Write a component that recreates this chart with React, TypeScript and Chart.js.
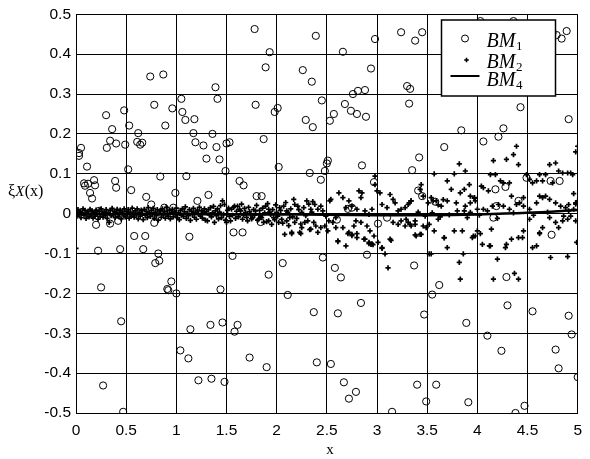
import { useEffect, useRef } from "react";
import { Chart, registerables } from "chart.js";
Chart.register(...registerables);

const xTickValues = [0, 0.5, 1, 1.5, 2, 2.5, 3, 3.5, 4, 4.5, 5];
const yTickValues = [-0.5, -0.4, -0.3, -0.2, -0.1, 0, 0.1, 0.2, 0.3, 0.4, 0.5];
const seriesNames = ["BM", "BM", "BM"];
const seriesSubs = ["1", "2", "4"];

// BM1 : open circles
const bm1: [number, number][] = [
  [0.03, 0.152], [0.05, 0.165], [0.03, 0.145], [0.11, 0.118],
  [0.08, 0.076], [0.12, 0.075], [0.18, 0.084], [0.19, 0.071], [0.14, 0.052], [0.16, 0.038], [0.09, 0.07],
  [0.3, 0.247], [0.307, 0.165], [0.34, 0.183], [0.36, 0.212], [0.4, 0.176], [0.39, 0.082], [0.4, 0.065],
  [0.23, 0.007], [0.2, -0.028], [0.34, -0.025], [0.42, -0.018],
  [0.48, 0.259], [0.49, 0.173], [0.53, 0.221], [0.52, 0.111], [0.55, 0.059],
  [0.62, 0.202], [0.61, 0.18], [0.64, 0.173], [0.66, 0.178],
  [0.7, 0.042], [0.75, 0.023], [0.74, 0.344], [0.78, 0.273], [0.87, 0.349], [0.89, 0.221], [0.84, 0.093], [0.88, 0.015], [0.78, -0.023],
  [0.96, 0.264], [0.99, 0.052], [0.97, 0.015],
  [1.05, 0.288], [1.06, 0.255], [1.09, 0.235], [1.1, 0.094],
  [1.18, 0.237], [1.17, 0.202], [1.19, 0.179], [1.21, 0.032],
  [1.27, 0.171], [1.3, 0.138], [1.32, 0.047], [1.36, 0.2], [1.39, 0.317], [1.41, 0.288], [1.4, 0.167], [1.43, 0.136], [1.49, 0.107], [1.5, 0.176], [1.53, 0.179],
  [1.63, 0.082], [1.67, 0.071],
  [1.78, 0.463], [1.93, 0.405], [1.89, 0.367], [1.79, 0.273], [1.87, 0.187], [1.8, 0.044], [1.85, 0.044],
  [1.98, 0.255], [2.01, 0.265], [2.02, 0.117], [1.84, -0.021],
  [0.58, -0.056], [0.69, -0.056], [1.13, -0.058], [1.57, -0.047], [1.66, -0.047],
  [0.22, -0.093], [0.44, -0.089], [0.67, -0.089], [0.82, -0.1], [0.79, -0.124], [0.83, -0.118], [1.56, -0.106],
  [0.25, -0.185], [0.95, -0.17], [0.91, -0.189], [0.92, -0.192], [1.0, -0.2], [1.44, -0.19], [1.92, -0.153], [2.06, -0.124], [2.11, -0.204],
  [0.45, -0.27], [1.14, -0.29], [1.34, -0.279], [1.46, -0.273], [1.61, -0.279], [1.58, -0.296],
  [1.04, -0.343], [1.12, -0.363], [1.73, -0.361], [1.9, -0.385],
  [0.27, -0.431], [1.22, -0.418], [1.35, -0.414], [1.48, -0.422], [0.47, -0.497],
  [2.39, 0.446], [2.66, 0.406], [2.98, 0.438], [3.24, 0.455], [3.38, 0.434], [3.45, 0.455], [4.03, 0.483], [4.36, 0.483],
  [4.75, 0.454], [4.79, 0.448], [4.84, 0.439], [4.89, 0.458],
  [2.26, 0.36], [2.35, 0.331], [2.94, 0.364], [3.3, 0.32], [3.33, 0.313],
  [2.81, 0.308], [2.88, 0.31], [2.76, 0.3], [2.45, 0.284], [2.68, 0.275], [2.74, 0.258], [2.8, 0.25], [2.89, 0.243], [2.57, 0.25], [2.53, 0.233], [2.29, 0.235], [2.36, 0.217],
  [3.32, 0.276], [4.43, 0.267], [4.91, 0.237], [4.72, 0.36], [4.73, 0.327],
  [3.84, 0.209], [4.26, 0.214], [4.21, 0.193], [4.06, 0.181], [3.67, 0.167], [3.42, 0.141], [2.85, 0.121], [3.35, 0.109],
  [2.51, 0.133], [2.5, 0.126], [2.48, 0.107], [2.33, 0.102], [2.44, 0.085], [2.97, 0.079], [3.41, 0.058], [3.45, 0.044],
  [2.71, 0.012], [2.75, 0.015], [4.18, 0.061], [4.28, 0.067], [4.19, 0.019], [4.41, 0.032], [4.73, 0.082], [4.82, 0.082], [4.49, 0.09],
  [3.58, 0.03], [4.16, -0.01], [3.01, -0.025], [3.1, -0.01], [2.6, -0.015],
  [4.74, -0.053], [2.46, -0.11], [2.9, -0.103], [3.37, -0.13], [2.58, -0.136], [2.64, -0.16], [4.29, -0.159],
  [3.62, -0.179], [3.55, -0.203], [2.84, -0.224], [2.37, -0.247], [2.61, -0.25], [3.47, -0.253], [3.89, -0.274], [4.3, -0.23], [4.55, -0.245], [4.91, -0.256],
  [4.1, -0.306], [4.94, -0.303], [4.24, -0.344], [4.78, -0.341], [4.81, -0.388],
  [2.4, -0.373], [2.54, -0.377], [2.67, -0.423], [2.79, -0.447], [2.72, -0.464], [3.4, -0.429], [3.59, -0.429], [3.49, -0.471], [3.91, -0.473], [3.15, -0.497], [4.38, -0.5], [4.47, -0.482], [5.0, -0.41],
];

// BM2 : small plus marks, x < 1.6
const bm2Near: [number, number][] = [
  [0.0, -0.087],
  [0.0, 0.004], [0.01, -0.006], [0.02, 0.01], [0.03, -0.002], [0.04, 0.006], [0.05, -0.01], [0.06, 0.002], [0.07, 0.012], [0.08, -0.004], [0.09, 0.008],
  [0.1, -0.012], [0.11, 0.0], [0.12, 0.005], [0.13, -0.008], [0.14, 0.011], [0.15, -0.003], [0.16, 0.007], [0.17, -0.011], [0.18, 0.003], [0.19, -0.006],
  [0.2, 0.009], [0.21, -0.001], [0.22, -0.014], [0.23, 0.006], [0.24, -0.007], [0.25, 0.012], [0.26, 0.001], [0.27, -0.009], [0.28, 0.004], [0.29, -0.004],
  [0.3, 0.01], [0.31, -0.012], [0.32, 0.002], [0.33, -0.022], [0.34, 0.008], [0.35, -0.005], [0.36, 0.013], [0.37, -0.002], [0.38, 0.006], [0.39, -0.01],
  [0.4, 0.003], [0.41, 0.011], [0.42, -0.007], [0.43, 0.0], [0.44, 0.009], [0.45, -0.013], [0.46, 0.004], [0.47, -0.003], [0.48, 0.012], [0.49, -0.008],
  [0.5, 0.006], [0.51, -0.001], [0.52, 0.01], [0.53, -0.011], [0.54, 0.004], [0.55, -0.006], [0.56, 0.014], [0.57, 0.001], [0.58, -0.009], [0.59, 0.007],
  [0.6, -0.003], [0.61, 0.012], [0.62, -0.013], [0.63, 0.003], [0.64, -0.006], [0.65, 0.009], [0.66, 0.0], [0.67, -0.015], [0.68, 0.011], [0.69, -0.004],
  [0.7, 0.006], [0.71, -0.01], [0.72, 0.015], [0.73, 0.002], [0.74, -0.007], [0.75, 0.008], [0.76, -0.002], [0.77, 0.013], [0.78, -0.012], [0.79, 0.004],
  [0.8, -0.005], [0.81, 0.01], [0.82, -0.016], [0.83, 0.001], [0.84, 0.007], [0.85, -0.009], [0.86, 0.012], [0.87, -0.003], [0.88, 0.005], [0.89, -0.011],
  [0.9, 0.016], [0.91, 0.0], [0.92, -0.006], [0.93, 0.009], [0.94, -0.013], [0.95, 0.003], [0.96, 0.011], [0.97, -0.008], [0.98, 0.006], [0.99, -0.002],
  [1.0, 0.014], [1.01, -0.01], [1.02, 0.002], [1.03, -0.015], [1.04, 0.008], [1.05, -0.004], [1.06, 0.012], [1.07, -0.007], [1.08, 0.005], [1.09, 0.017],
  [1.1, -0.012], [1.11, 0.001], [1.12, -0.005], [1.13, 0.01], [1.14, -0.017], [1.15, 0.006], [1.16, -0.002], [1.17, 0.013], [1.18, -0.009], [1.19, 0.004],
  [1.2, -0.014], [1.21, 0.009], [1.22, 0.0], [1.23, 0.016], [1.24, -0.006], [1.25, 0.007], [1.26, -0.011], [1.27, 0.003], [1.28, 0.012], [1.29, -0.016],
  [1.3, 0.005], [1.31, -0.018], [1.32, 0.01], [1.33, -0.003], [1.34, 0.015], [1.35, -0.008], [1.36, 0.002], [1.37, 0.018], [1.38, -0.022], [1.39, 0.007],
  [1.4, -0.005], [1.41, 0.012], [1.42, -0.013], [1.43, 0.004], [1.44, 0.02], [1.45, -0.01], [1.46, 0.032], [1.47, -0.002], [1.48, 0.023], [1.49, -0.016],
  [1.5, -0.022], [1.51, 0.008], [1.52, 0.014], [1.53, -0.007], [1.54, -0.018], [1.55, 0.011], [1.56, -0.004], [1.57, 0.016], [1.58, 0.019], [1.59, -0.012],
];

// BM2 : x from 1.6 to 3.4
const bm2Mid: [number, number][] = [
  [1.6, 0.006], [1.62, -0.008], [1.63, 0.011], [1.65, 0.024], [1.67, -0.003], [1.68, 0.013], [1.7, -0.009], [1.72, 0.016], [1.73, 0.005], [1.75, -0.013],
  [1.77, 0.01], [1.78, -0.004], [1.8, 0.021], [1.81, -0.016], [1.83, 0.008], [1.85, -0.01], [1.86, 0.014], [1.88, 0.002], [1.9, -0.02], [1.91, 0.025],
  [1.93, 0.004], [1.96, 0.01], [1.98, -0.015], [1.99, 0.022], [2.01, -0.006], [2.04, 0.008], [2.06, -0.024], [2.09, 0.028], [2.11, 0.003], [2.12, -0.03],
  [2.14, 0.012], [2.16, -0.008], [2.17, 0.036], [2.2, -0.012], [2.22, 0.01], [2.24, -0.026], [2.27, 0.015], [2.29, -0.005], [2.32, 0.024], [2.33, -0.04],
  [2.35, 0.004], [2.36, 0.03],
  [1.61, 0.019], [1.64, 0.007], [1.69, 0.003], [1.74, -0.002], [1.79, 0.007], [1.84, -0.006], [1.89, 0.019], [1.92, 0.011], [1.94, -0.002], [1.97, -0.01],
  [2.0, 0.003], [2.03, 0.015], [2.07, 0.019], [2.1, 0.007], [2.13, -0.01], [2.18, 0.023], [2.21, 0.019], [2.25, 0.003], [2.3, 0.032], [2.34, 0.011],
  [2.38, 0.023], [2.41, 0.011], [2.44, 0.019], [2.46, 0.007], [2.49, -0.006], [2.53, 0.032], [2.54, 0.036], [2.59, -0.01], [2.62, 0.052], [2.66, 0.04],
  [2.69, 0.015], [2.72, 0.032], [2.75, 0.019], [2.8, 0.011], [2.82, 0.057], [2.85, 0.052], [2.84, 0.04], [2.88, 0.007], [2.92, -0.002], [2.95, 0.011],
  [2.98, 0.094], [2.98, 0.073], [3.0, 0.057], [3.03, 0.052], [3.05, 0.023], [3.1, 0.015], [3.13, 0.048], [3.16, 0.036], [3.18, 0.027], [3.21, 0.007],
  [3.24, 0.011], [3.28, 0.015], [3.31, 0.023], [3.34, 0.032],
  [1.66, -0.014], [1.71, -0.018], [1.76, -0.01], [1.82, -0.014], [1.87, -0.022], [1.92, -0.018], [1.95, -0.027], [2.02, -0.022], [2.05, -0.014], [2.08, -0.052],
  [2.1, -0.018], [2.15, -0.047], [2.18, -0.022], [2.23, -0.047], [2.25, -0.035], [2.28, -0.022], [2.31, -0.018], [2.34, -0.039], [2.37, -0.022], [2.39, -0.031],
  [2.44, -0.035], [2.48, -0.031], [2.51, -0.043], [2.52, -0.018], [2.56, -0.022], [2.59, -0.035], [2.61, -0.068], [2.66, -0.035], [2.69, -0.081], [2.72, -0.047],
  [2.75, -0.052], [2.77, -0.031], [2.79, -0.018], [2.8, -0.06], [2.84, -0.022], [2.87, -0.064], [2.9, -0.031], [2.92, -0.072], [2.93, -0.043], [2.95, -0.076],
  [2.97, -0.056], [3.01, -0.072], [3.05, -0.085], [3.08, -0.101], [3.11, -0.136], [3.13, -0.064], [3.16, -0.022], [3.21, -0.027], [3.24, -0.018], [3.28, -0.031],
  [3.31, -0.022], [3.34, -0.031], [3.38, -0.018],
  [2.15, -0.05], [2.24, -0.05], [2.41, -0.047], [2.61, -0.07], [2.71, -0.05], [2.75, -0.055], [2.8, -0.05], [2.88, -0.064], [2.92, -0.075], [2.94, -0.077],
  [2.96, -0.078], [3.05, -0.087], [3.14, -0.067], [3.38, -0.053],
];

// BM2 : x from 3.4 to 5
const bm2Far: [number, number][] = [
  [3.29, -0.014], [3.33, -0.027], [3.38, -0.027], [3.39, -0.056], [3.44, -0.052], [3.46, -0.031], [3.49, -0.035], [3.52, -0.027], [3.57, -0.043], [3.61, -0.014],
  [3.67, -0.06], [3.7, -0.085], [3.77, -0.043], [3.85, -0.043], [3.95, -0.06], [3.98, -0.056], [4.0, -0.043], [4.05, -0.077], [4.13, -0.081], [4.14, -0.039],
  [4.28, -0.085], [4.29, -0.077], [4.34, -0.064], [4.41, -0.06], [4.46, -0.043], [4.52, -0.014], [4.55, -0.085], [4.59, -0.081], [4.62, -0.048], [4.65, -0.035],
  [4.72, -0.01], [4.78, -0.022], [4.81, -0.035], [4.85, -0.018], [4.9, -0.014], [4.93, -0.006], [4.98, -0.018], [4.99, -0.072], [4.73, -0.11], [4.9, -0.108],
  [3.82, -0.122], [3.86, -0.101], [3.52, -0.101], [4.2, -0.114], [4.37, -0.15], [4.41, -0.164], [4.16, -0.164], [3.83, -0.164], [3.43, -0.052], [3.54, -0.101],
  [3.67, -0.061], [3.96, -0.056], [4.03, -0.05], [4.12, -0.081], [4.45, -0.06], [4.62, -0.05],
  [4.39, 0.169], [4.36, 0.148], [4.29, 0.136], [4.16, 0.133], [4.41, 0.123], [3.82, 0.125], [3.88, 0.107], [4.72, 0.123], [4.78, 0.127], [4.98, 0.155],
  [5.0, 0.169], [3.57, 0.1], [3.7, 0.082], [3.77, 0.1], [3.92, 0.073], [3.87, 0.061], [3.83, 0.052], [3.93, 0.044], [3.97, 0.04], [3.98, 0.032],
  [4.04, 0.069], [4.06, 0.065], [4.11, 0.057], [4.13, 0.098], [4.18, 0.098], [4.23, 0.082], [4.26, 0.077], [4.32, 0.077], [4.34, 0.044], [4.42, 0.027],
  [4.46, 0.04], [4.49, 0.098], [4.52, 0.086], [4.55, 0.077], [4.59, 0.082], [4.62, 0.098], [4.65, 0.082], [4.68, 0.098], [4.75, 0.077], [4.81, 0.107],
  [4.85, 0.102], [4.9, 0.102], [4.93, 0.102], [4.95, 0.098], [4.91, 0.023], [4.98, 0.027], [5.0, 0.032], [3.32, 0.027], [3.34, 0.032], [3.44, 0.073],
  [3.43, 0.061], [3.46, 0.044], [3.51, 0.027], [3.54, 0.04], [3.59, 0.032], [3.64, 0.019], [3.7, 0.032], [3.74, 0.061], [3.79, 0.027], [3.8, 0.007],
  [3.87, 0.007], [3.93, 0.003], [4.0, 0.011], [4.06, 0.011], [4.1, 0.007], [4.15, 0.019], [4.21, 0.023], [4.26, 0.019], [4.32, 0.011], [4.39, 0.023],
  [4.46, 0.019], [4.52, 0.011], [4.59, 0.027], [4.62, 0.044], [4.65, 0.04], [4.68, 0.044], [4.72, 0.036], [4.78, 0.027], [4.83, 0.019], [4.88, 0.015],
  [4.91, 0.007], [4.96, 0.011], [3.56, 0.032], [3.61, 0.022], [3.66, 0.035], [3.88, 0.019], [3.93, 0.027], [3.97, 0.039], [4.96, 0.05], [4.98, 0.024],
  [3.41, 0.004], [3.48, -0.006], [3.55, 0.002], [3.63, -0.008], [3.72, -0.003], [3.9, -0.01], [4.02, -0.004], [4.2, -0.012], [4.36, 0.002], [4.56, -0.004],
  [4.7, 0.004], [4.86, -0.006],
];

// BM4 : solid line
const bm4X = [0, 0.5, 1, 1.5, 2, 2.5, 3, 3.5, 4, 4.5, 5];
const bm4Y = [-0.001, -0.001, -0.001, -0.002, -0.002, -0.003, -0.004, -0.004, -0.002, 0.002, 0.009];

const legendPlugin = {
  id: "customDecor",
  afterDraw(chart: any) {
    const ctx = chart.ctx as CanvasRenderingContext2D;
    ctx.save();
    // legend box
    ctx.fillStyle = "#fff";
    ctx.fillRect(441.5, 20, 114, 76);
    ctx.strokeStyle = "#000";
    ctx.lineWidth = 1.5;
    ctx.strokeRect(441.5, 20, 114, 76);
    const rows = [40, 61, 79];
    // markers
    ctx.lineWidth = 1;
    ctx.beginPath();
    ctx.arc(465, 38.5, 3.5, 0, Math.PI * 2);
    ctx.stroke();
    ctx.lineWidth = 1.6;
    const r = 2.3;
    const cx = 466.5, cy = 60;
    ctx.beginPath();
    ctx.moveTo(cx - r, cy); ctx.lineTo(cx + r, cy);
    ctx.moveTo(cx, cy - r); ctx.lineTo(cx, cy + r);
    ctx.stroke();
    ctx.lineWidth = 2;
    ctx.beginPath();
    ctx.moveTo(450.5, 76); ctx.lineTo(479.5, 76);
    ctx.stroke();
    // texts
    ctx.fillStyle = "#000";
    ctx.textBaseline = "alphabetic";
    ctx.textAlign = "left";
    rows.forEach((cyRow, i) => {
      ctx.font = 'italic 20px "Liberation Serif"';
      const base = cyRow + 6.5;
      ctx.fillText(seriesNames[i], 486.5, base);
      const w = ctx.measureText(seriesNames[i]).width;
      ctx.font = '13px "Liberation Serif"';
      ctx.fillText(seriesSubs[i], 486.5 + w + 0.5, base + 3);
    });
    // y axis title
    ctx.font = '16px "Liberation Serif"';
    ctx.fillText("\u03be", 8, 196);
    let xx = 8 + ctx.measureText("\u03be").width;
    ctx.font = 'italic 15px "Liberation Serif"';
    ctx.fillText("X", xx, 196);
    xx += ctx.measureText("X").width + 0.5;
    ctx.font = '16px "Liberation Serif"';
    ctx.fillText("(x)", xx, 196);
    // x axis title
    ctx.textAlign = "center";
    ctx.font = '15px "Liberation Serif"';
    ctx.fillText("x", 330, 454);
    ctx.restore();
  },
};

export default function App() {
  const ref = useRef<HTMLCanvasElement | null>(null);
  useEffect(() => {
    if (!ref.current) return;
    const toPts = (a: [number, number][]) => a.map(([x, y]) => ({ x, y }));
    const chart = new Chart(ref.current, {
      type: "scatter",
      data: {
        datasets: [
          {
            label: "BM4",
            type: "line",
            data: bm4X.map((x, i) => ({ x, y: bm4Y[i] })),
            borderColor: "#000",
            borderWidth: 2.5,
            pointRadius: 0,
            showLine: true,
            fill: false,
            tension: 0.3,
            order: 0,
          } as any,
          {
            label: "BM2",
            data: [...toPts(bm2Near), ...toPts(bm2Mid), ...toPts(bm2Far)],
            pointStyle: "cross",
            pointRadius: 2.6,
            pointBorderWidth: 1.7,
            borderColor: "#000",
            backgroundColor: "#000",
            order: 1,
          },
          {
            label: "BM1",
            data: toPts(bm1),
            pointStyle: "circle",
            pointRadius: 3.6,
            pointBorderWidth: 1,
            borderColor: "#000",
            backgroundColor: "rgba(0,0,0,0)",
            order: 2,
          },
        ],
      },
      options: {
        animation: false,
        responsive: false,
        devicePixelRatio: 1,
        events: [],
        layout: { padding: { left: 0, right: 4, top: 12, bottom: 0 } },
        plugins: { legend: { display: false }, tooltip: { enabled: false } },
        scales: {
          x: {
            type: "linear",
            min: 0,
            max: 5,
            afterFit: (s: any) => { s.height = 46; },
            afterBuildTicks: (s: any) => { s.ticks = xTickValues.map((v) => ({ value: v })); },
            grid: { color: "#000", lineWidth: 1, drawTicks: false },
            border: { color: "#000", width: 1 },
            ticks: {
              padding: 8,
              color: "#000",
              font: { family: '"Liberation Sans", Arial', size: 15.5 },
              callback: (v: any) => String(Math.round(Number(v) * 10) / 10),
            },
          },
          y: {
            type: "linear",
            min: -0.5,
            max: 0.5,
            afterFit: (s: any) => { s.width = 76; },
            afterBuildTicks: (s: any) => { s.ticks = yTickValues.map((v) => ({ value: v })); },
            grid: { color: "#000", lineWidth: 1, drawTicks: false },
            border: { color: "#000", width: 1 },
            ticks: {
              padding: 5,
              color: "#000",
              font: { family: '"Liberation Sans", Arial', size: 15.5 },
              callback: (v: any) => String(Math.round(Number(v) * 10) / 10),
            },
          },
        },
      },
      plugins: [legendPlugin],
    });
    return () => chart.destroy();
  }, []);
  return (
    <div style={{ position: "fixed", left: 0, top: 0, width: 590, height: 459, background: "#fff" }}>
      <canvas ref={ref} width={590} height={459} style={{ width: 590, height: 459, display: "block" }} />
    </div>
  );
}
